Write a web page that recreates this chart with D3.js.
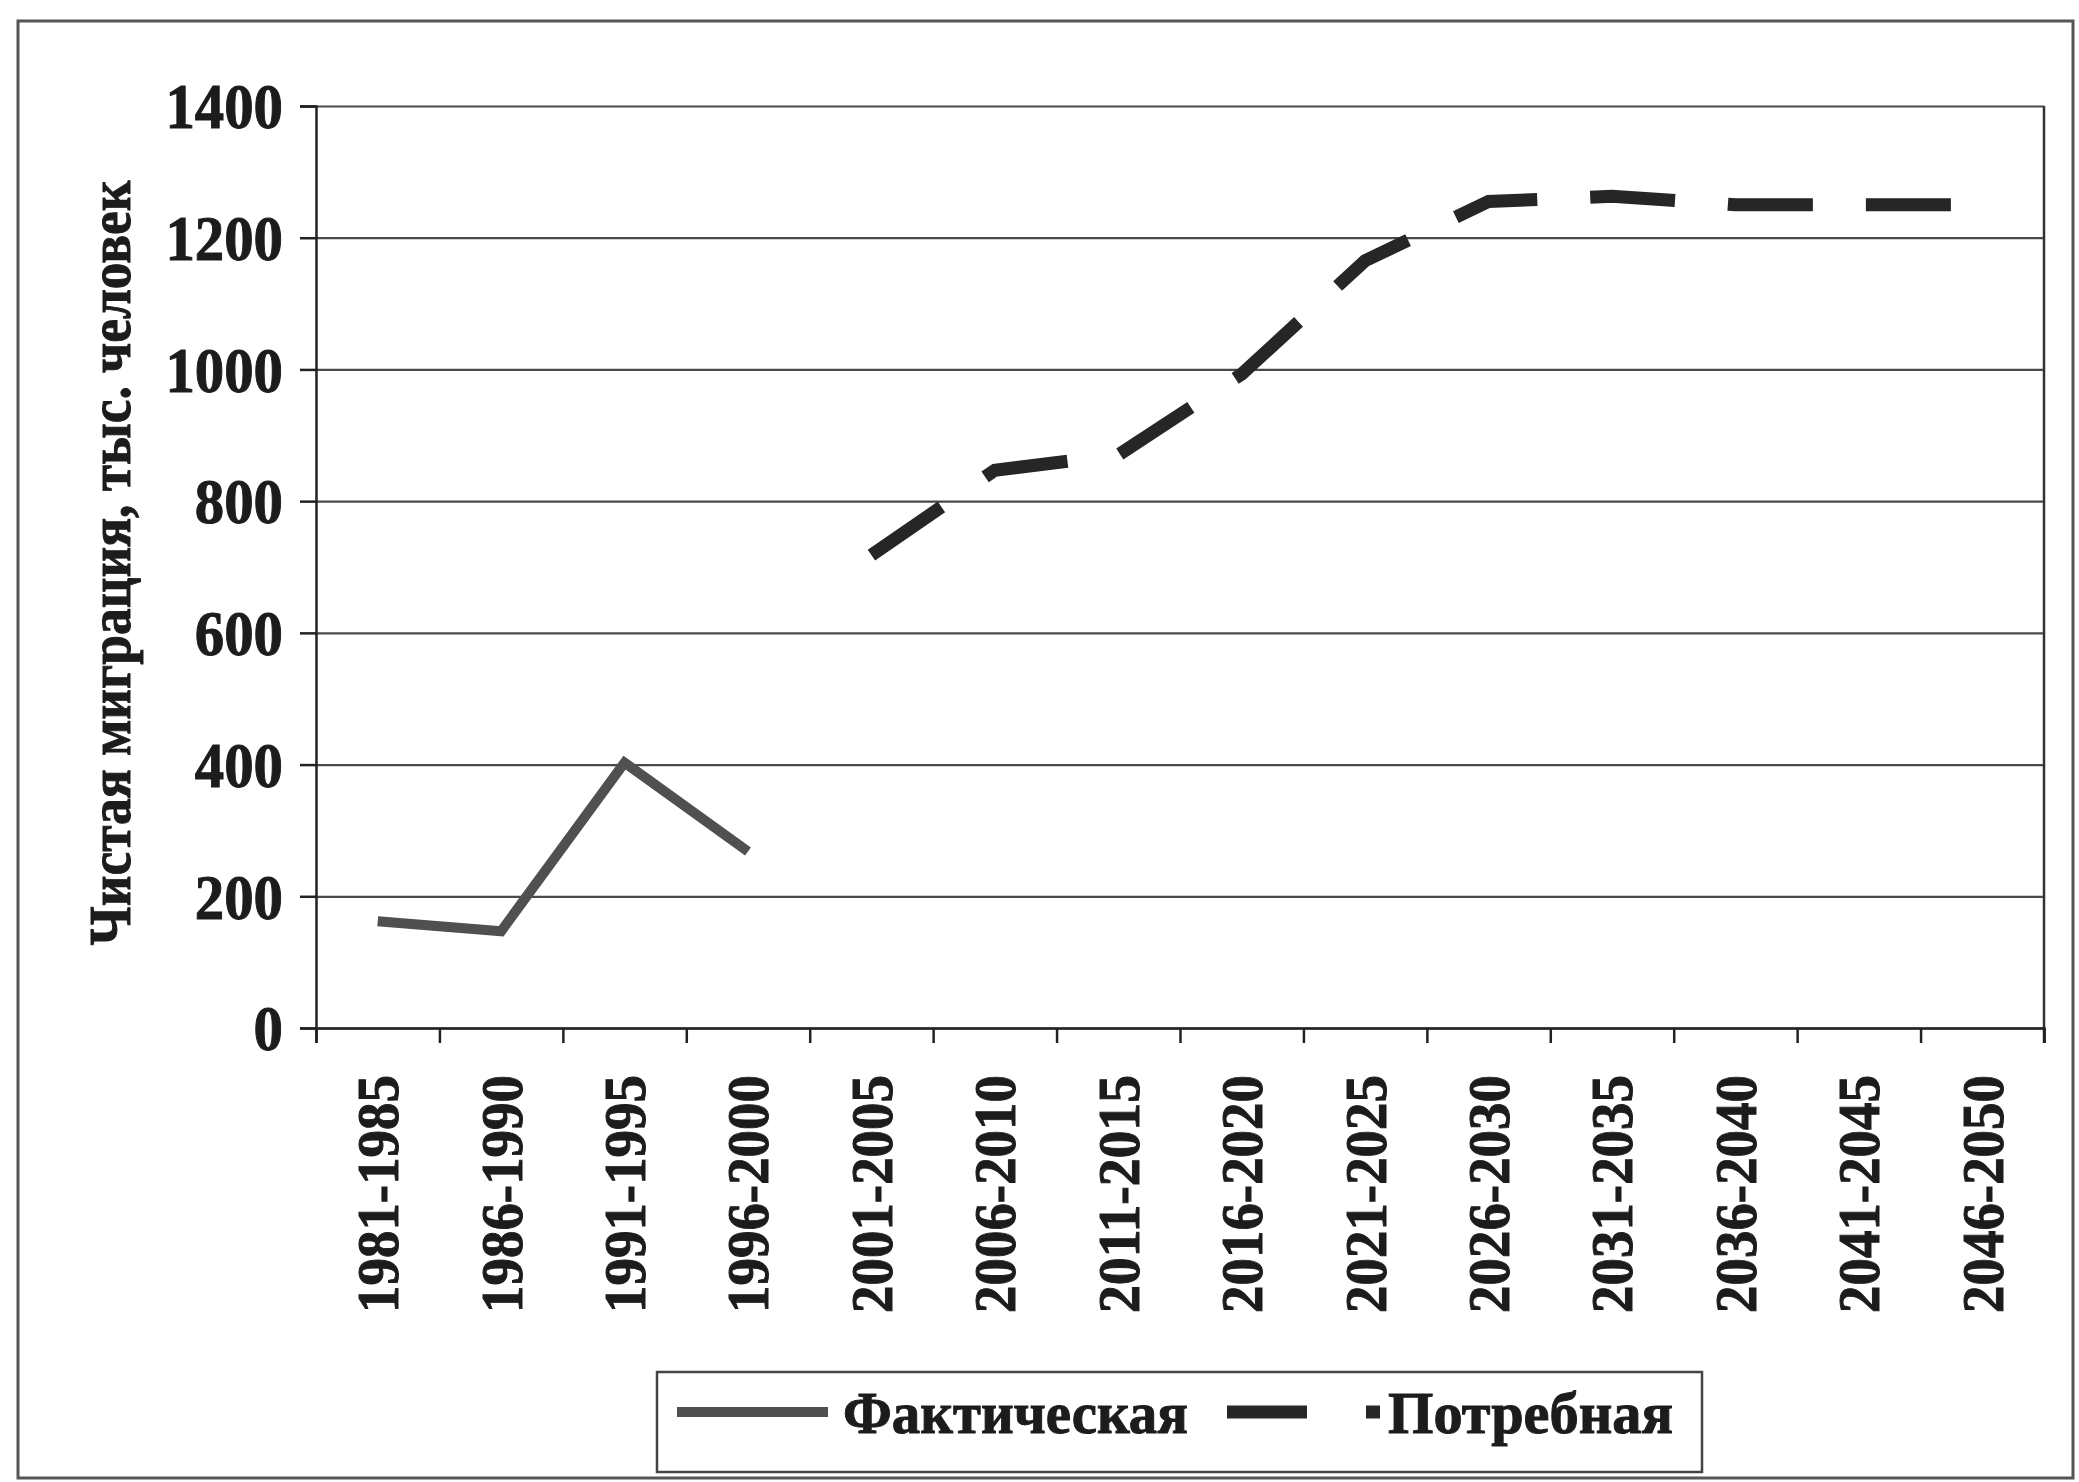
<!DOCTYPE html>
<html>
<head>
<meta charset="utf-8">
<script src="https://cdn.jsdelivr.net/npm/d3@7"></script>
<style>
  html, body { margin: 0; padding: 0; background: #ffffff; }
  svg { display: block; }
  text { font-family: "Liberation Serif", "Times New Roman", serif; font-weight: bold; fill: #1c1c1c; stroke: #1c1c1c; stroke-width: 1; }
</style>
</head>
<body>
<svg id="chart" width="2079" height="1482"></svg>
<script>
// ---- data ----
const categories = ["1981-1985","1986-1990","1991-1995","1996-2000","2001-2005","2006-2010","2011-2015",
                    "2016-2020","2021-2025","2026-2030","2031-2035","2036-2040","2041-2045","2046-2050"];
const actual   = [162, 147, 403, 268, null, null, null, null, null, null, null, null, null, null];
const required = [null, null, null, null, 718, 847, 870, 993, 1165, 1255, 1263, 1250, 1250, 1250];
const yTicks = [0, 200, 400, 600, 800, 1000, 1200, 1400];
const seriesNames = ["Фактическая", "Потребная"];
const yTitle = "Чистая миграция, тыс. человек";

// ---- layout ----
const W = 2079, H = 1482;
const plot = { left: 316, right: 2044, top: 106, bottom: 1028 };
const svg = d3.select("#chart");

// outer frame
svg.append("rect").attr("x", 18).attr("y", 21).attr("width", 2055).attr("height", 1457)
  .attr("fill", "#fff").attr("stroke", "#555").attr("stroke-width", 3);

const x = d3.scaleBand().domain(categories).range([plot.left, plot.right]).paddingInner(0).paddingOuter(0);
const xEdge = d3.scaleLinear().domain([0, categories.length]).range([plot.left, plot.right]);
const y = d3.scaleLinear().domain([0, 1400]).range([plot.bottom, plot.top]);
const cx = d => x(d) + x.bandwidth() / 2;

// gridlines
svg.append("g").attr("transform", `translate(${plot.left},0)`)
  .call(d3.axisLeft(y).tickValues(yTicks).tickSize(-(plot.right - plot.left)).tickFormat(""))
  .call(g => g.select(".domain").remove())
  .call(g => g.selectAll("line").attr("stroke", "#4a4a4a").attr("stroke-width", 2.2));

// right border
svg.append("line").attr("x1", plot.right).attr("x2", plot.right).attr("y1", y(1400)).attr("y2", y(0) + 15)
  .attr("stroke", "#333").attr("stroke-width", 2.5);

// y axis
const yAxis = svg.append("g").attr("transform", `translate(${plot.left},0)`)
  .call(d3.axisLeft(y).tickValues(yTicks).tickSize(16).tickPadding(17).tickFormat(d3.format("d")));
yAxis.select(".domain").attr("stroke", "#222").attr("stroke-width", 2.5);
yAxis.selectAll(".tick line").attr("stroke", "#222").attr("stroke-width", 2.5);
yAxis.selectAll("text").attr("font-size", 64).attr("fill", "#1c1c1c")
  .attr("font-family", "Liberation Serif").attr("dy", "0.34em")
  .attr("textLength", d => String(d).length * 29.4).attr("lengthAdjust", "spacingAndGlyphs");

// x axis boundary ticks
const xTickAxis = svg.append("g").attr("transform", `translate(0,${plot.bottom})`)
  .call(d3.axisBottom(xEdge).tickValues(d3.range(categories.length + 1)).tickSize(15).tickFormat(""));
xTickAxis.select(".domain").attr("stroke", "#222").attr("stroke-width", 2.5);
xTickAxis.selectAll(".tick line").attr("stroke", "#222").attr("stroke-width", 2.5);

// x labels
const xAxis = svg.append("g").attr("transform", `translate(0,${plot.bottom})`)
  .call(d3.axisBottom(x).tickSize(0));
xAxis.select(".domain").remove();
xAxis.selectAll("text")
  .attr("font-size", 60).attr("fill", "#1c1c1c").attr("font-family", "Liberation Serif")
  .attr("transform", "rotate(-90)").attr("x", -47).attr("y", 0).attr("dy", "0.34em")
  .attr("text-anchor", "end")
  .attr("textLength", 238).attr("lengthAdjust", "spacingAndGlyphs");

// y title
svg.append("text").attr("transform", "translate(130,563) rotate(-90)")
  .attr("text-anchor", "middle").attr("font-size", 60)
  .attr("textLength", 765).attr("lengthAdjust", "spacingAndGlyphs")
  .text(yTitle);

// lines
const line = d3.line().defined(d => d.v != null).x(d => cx(d.c)).y(d => y(d.v));
svg.append("path")
  .datum(categories.map((c, i) => ({ c, v: actual[i] })))
  .attr("d", line).attr("fill", "none").attr("stroke", "#505050").attr("stroke-width", 10)
  .attr("stroke-linejoin", "miter");
svg.append("path")
  .datum(categories.map((c, i) => ({ c, v: required[i] })))
  .attr("d", line).attr("fill", "none").attr("stroke", "#262626").attr("stroke-width", 13)
  .attr("stroke-dasharray", "85,53").attr("stroke-linejoin", "miter");

// legend
const lg = svg.append("g");
lg.append("rect").attr("x", 657).attr("y", 1372).attr("width", 1045).attr("height", 100)
  .attr("fill", "#fff").attr("stroke", "#444").attr("stroke-width", 2.5);
lg.append("line").attr("x1", 677).attr("x2", 828).attr("y1", 1412).attr("y2", 1412)
  .attr("stroke", "#505050").attr("stroke-width", 10);
lg.append("text").attr("x", 843).attr("y", 1433).attr("font-size", 60)
  .attr("textLength", 345).attr("lengthAdjust", "spacingAndGlyphs").text(seriesNames[0]);
lg.append("line").attr("x1", 1227).attr("x2", 1380).attr("y1", 1412).attr("y2", 1412)
  .attr("stroke", "#262626").attr("stroke-width", 13).attr("stroke-dasharray", "80,59");
lg.append("text").attr("x", 1388).attr("y", 1433).attr("font-size", 60)
  .attr("textLength", 285).attr("lengthAdjust", "spacingAndGlyphs").text(seriesNames[1]);
</script>
</body>
</html>
